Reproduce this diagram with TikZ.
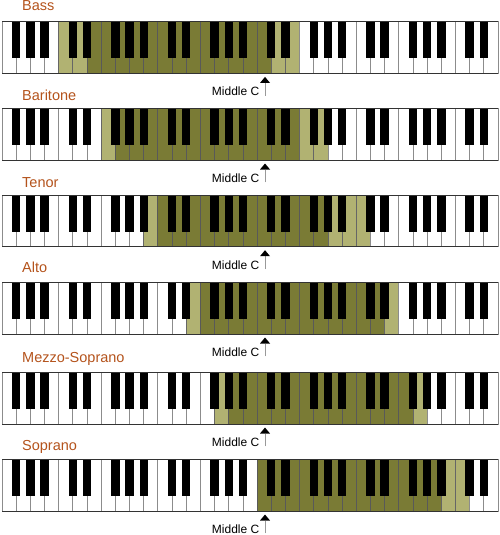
\documentclass[tikz,border=0pt]{standalone}
\usepackage{fontspec}
\setmainfont{Liberation Sans}
\definecolor{lightol}{HTML}{B1B272}
\definecolor{darkol}{HTML}{7A7B35}
\definecolor{titlec}{HTML}{B4531C}
\tikzset{
  keystyle0/.style={fill=white, draw=black!45, line width=0.8pt},
  keystyle1/.style={fill=lightol, draw=black!60, line width=0.8pt},
  keystyle2/.style={fill=darkol, draw=black!65, line width=0.8pt},
  blackkey/.style={fill=black, draw=none},
  kbframe/.style={draw=black!80, line width=1pt},
  title/.style={anchor=base west, text=titlec, font=\fontsize{14.5}{16}\selectfont, inner sep=0pt},
  mclabel/.style={anchor=base east, font=\fontsize{12}{14}\selectfont, inner sep=0pt},
  stem/.style={draw=black!40, line width=0.8pt},
  arrowhead/.style={fill=black, draw=none},
}
\begin{document}
\begin{tikzpicture}[x=1pt,y=-1pt]
\useasboundingbox (0,0) rectangle (500,535);
\def\kw{14.1714}
\def\kh{51.7}
\def\bh{36.6}
\foreach \name/\label/\top/\tb/\la/\da/\db/\lb in {
  bass/Bass/21.7/11/4/6/18/20,
  baritone/Baritone/108.3/100/7/8/20/22,
  tenor/Tenor/195/187.3/10/11/22/25,
  alto/Alto/282.3/272.5/13/14/26/27,
  mezzo/Mezzo-Soprano/372.3/362.5/15/16/28/29,
  soprano/Soprano/459.3/450.5/18/18/30/32}{
  % title
  \node[title] (t\name) at (22,\tb) {\label};
  % white keys
  \foreach \k in {0,...,34}{
    \pgfmathtruncatemacro\st{and(\k>\da-0.5,\k<\db+0.5) ? 2 : (and(\k>\la-0.5,\k<\lb+0.5) ? 1 : 0)}
    \pgfmathsetmacro\xa{2+\k*\kw}
    \pgfmathsetmacro\xb{2+(\k+1)*\kw}
    \path[keystyle\st] (\xa,\top) rectangle (\xb,\top+\kh);
  }
  % black keys
  \foreach \k in {0,...,33}{
    \pgfmathtruncatemacro\nt{mod(\k+3,7)}
    \ifnum\nt=2\relax\else\ifnum\nt=6\relax\else
      \pgfmathsetmacro\xc{2+(\k+1)*\kw}
      \path[blackkey] (\xc-4.2,\top) rectangle (\xc+4.2,\top+\bh);
    \fi\fi
  }
  % frame
  \draw[kbframe] (2,\top) -- (498,\top);
  \draw[kbframe] (2,\top+\kh) -- (498,\top+\kh);
  % middle C
  \node[mclabel] (mc\name) at (259.5,\top+\kh+22.3) {Middle C};
  \coordinate (tip\name) at (265,\top+\kh+3.5);
  \draw[stem] (tip\name |- mc\name.base) -- ([yshift=-6pt]tip\name);
  \fill[arrowhead] (tip\name) -- ++(-5,6) -- ++(10,0) -- cycle;
}
\end{tikzpicture}
\end{document}
